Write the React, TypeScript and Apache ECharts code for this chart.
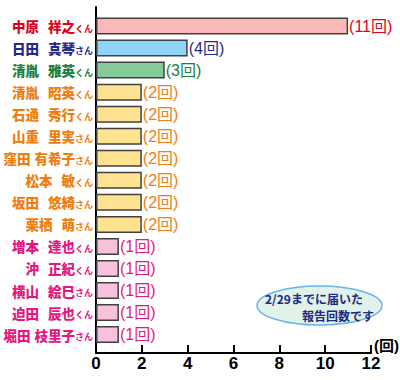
import React, { useEffect, useRef } from "react";
import * as echarts from "echarts";

const surnames = ["中原", "日田", "清胤", "清胤", "石通", "山重", "窪田", "松本", "坂田", "栗栖", "増本", "沖", "横山", "迫田", "堀田"];
const givenNames = ["祥之", "真琴", "雅英", "昭英", "秀行", "里実", "有希子", "敏", "悠綺", "萌", "達也", "正紀", "絵巳", "辰也", "枝里子"];
const honorifics = ["くん", "さん", "くん", "くん", "くん", "さん", "さん", "くん", "さん", "さん", "くん", "くん", "さん", "くん", "さん"];
const counts = [11, 4, 3, 2, 2, 2, 2, 2, 2, 2, 1, 1, 1, 1, 1];
const groups = [0, 1, 2, 3, 3, 3, 3, 3, 3, 3, 4, 4, 4, 4, 4];
const xTicks = [0, 2, 4, 6, 8, 10, 12];
const noteLines = ["2/29までに届いた", "報告回数です"];

const textColors = ["#e0001a", "#1f2a8c", "#1d8040", "#f07d10", "#e5177f"];
const barColors = ["#fbb8b8", "#8ed4f6", "#86c99a", "#fde28f", "#f8c2dc"];

const FONT = "'Noto Sans CJK JP', 'Noto Sans', sans-serif";
const LATIN = "'Liberation Sans', 'Noto Sans CJK JP', sans-serif";

export default function App() {
  const ref = useRef<HTMLDivElement>(null);
  useEffect(() => {
    document.body.style.margin = "0";
    const chart = echarts.init(ref.current!, null, { renderer: "svg" });
    const categories = surnames.map((_, i) => String(i));
    const rich: Record<string, any> = {};
    textColors.forEach((c, g) => {
      rich["n" + g] = { color: c, fontSize: 13.5, fontWeight: 900, fontFamily: FONT };
      rich["w" + g] = { color: c, fontSize: 9, fontWeight: "bold", fontFamily: FONT };
      rich["x" + g] = { color: c, fontSize: 4, fontWeight: "bold", fontFamily: FONT };
      rich["h" + g] = { color: c, fontSize: 9, fontWeight: "bold", fontFamily: FONT, padding: [4, 0, 0, 0] };
    });
    chart.setOption({
      animation: false,
      grid: [
        { left: 96, width: 275, top: 7, height: 346, containLabel: false, outerBoundsMode: "none" },
        { left: 96, width: 275, top: 15, height: 330.6, containLabel: false, outerBoundsMode: "none" },
      ],
      xAxis: [
        {
          gridIndex: 0,
          type: "value",
          min: xTicks[0],
          max: xTicks[xTicks.length - 1],
          interval: 2,
          name: "(回)",
          nameLocation: "end",
          nameGap: 3,
          nameMoveOverlap: false,
          nameTextStyle: { fontSize: 15, fontWeight: "bold", color: "#000", fontFamily: LATIN, align: "left", verticalAlign: "bottom", lineHeight: 15 },
          axisLine: { show: true, lineStyle: { color: "#000", width: 2 } },
          axisTick: { show: true, inside: true, length: 8, lineStyle: { color: "#000", width: 2 } },
          axisLabel: { color: "#000", fontSize: 17, fontWeight: "bold", fontFamily: "'Liberation Sans Narrow', 'Liberation Sans', sans-serif", margin: 2 },
          splitLine: { show: false },
        },
        { gridIndex: 1, type: "value", min: 0, max: 12, show: false },
      ],
      yAxis: [
        {
          gridIndex: 0,
          type: "value",
          min: 0,
          max: 1,
          axisLine: { show: true, lineStyle: { color: "#000", width: 2 } },
          axisTick: { show: false },
          axisLabel: { show: false },
          splitLine: { show: false },
        },
        {
          gridIndex: 1,
          type: "category",
          inverse: true,
          data: categories,
          axisLine: { show: false },
          axisTick: { show: false },
          axisLabel: {
            margin: 3,
            formatter: (v: string) => {
              const i = Number(v);
              const g = groups[i];
              const gap = givenNames[i].length > 2 ? "x" : "w";
              return `{n${g}|${surnames[i]}}{${gap}${g}|　}{n${g}|${givenNames[i]}}{h${g}|${honorifics[i]}}`;
            },
            rich,
          },
        },
      ],
      series: [
        {
          type: "bar",
          xAxisIndex: 1,
          yAxisIndex: 1,
          barWidth: 17,
          data: counts.map((v, i) => ({
            value: v,
            itemStyle: { color: barColors[groups[i]] },
            label: { color: textColors[groups[i]] },
          })),
          itemStyle: { borderColor: "#404040", borderWidth: 1.5 },
          label: {
            show: true,
            position: "right",
            distance: 1,
            fontSize: 16,
            fontFamily: LATIN,
            formatter: (p: any) => `(${p.value}回)`,
          },
        },
      ],
      graphic: [
        {
          type: "ellipse",
          shape: { cx: 319.5, cy: 305.5, rx: 62.5, ry: 19.5 },
          style: { fill: "#e0f2ea", stroke: "#6ab4e8", lineWidth: 1.5 },
        },
        {
          type: "text",
          x: 265,
          y: 298,
          style: { text: noteLines[0], fill: "#1c2a80", fontSize: 12, fontWeight: "bold", fontFamily: FONT, verticalAlign: "middle" },
        },
        {
          type: "text",
          x: 302,
          y: 315,
          style: { text: noteLines[1], fill: "#1c2a80", fontSize: 12, fontWeight: "bold", fontFamily: FONT, verticalAlign: "middle" },
        },
      ],
    });
    return () => chart.dispose();
  }, []);
  return <div ref={ref} style={{ width: 400, height: 380 }} />;
}
